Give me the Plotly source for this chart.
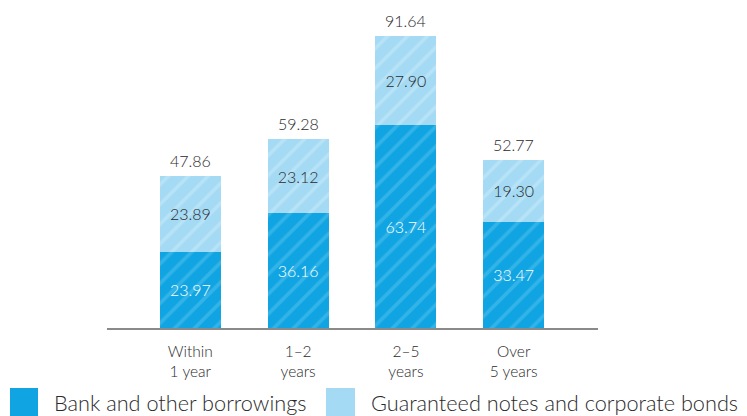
import plotly.graph_objects as go

categories = ["Within<br>1 year", "1–2<br>years", "2–5<br>years", "Over<br>5 years"]
bank = [23.97, 36.16, 63.74, 33.47]
notes = [23.89, 23.12, 27.90, 19.30]
totals = [47.86, 59.28, 91.64, 52.77]
series_names = ["Bank and other borrowings", "Guaranteed notes and corporate bonds"]

W, H = 747, 416
C_BANK = "#10a5e2"
C_NOTE = "#a5daf4"
FONT = "Lato, 'Noto Sans', sans-serif"
TXT = "#2a2a2a"
WT = 300

x = list(range(len(categories)))

fig = go.Figure()
fig.add_trace(go.Bar(
    x=x, y=bank, name=series_names[0], width=0.565,
    marker=dict(color=C_BANK, line=dict(width=0),
                pattern=dict(shape="/", fgcolor="#55c2ee", size=14, solidity=0.25)),
    texttemplate="%{y:.2f}", textposition="inside", insidetextanchor="middle",
    textfont=dict(color="white", size=16, family=FONT, weight=WT), textangle=0,
    showlegend=False,
))
fig.add_trace(go.Bar(
    x=x, y=notes, name=series_names[1], width=0.565,
    marker=dict(color=C_NOTE, line=dict(width=0),
                pattern=dict(shape="/", fgcolor="#c9ebfa", size=14, solidity=0.25)),
    texttemplate="%{y:.2f}", textposition="inside", insidetextanchor="middle",
    textfont=dict(color=TXT, size=16, family=FONT, weight=WT), textangle=0,
    showlegend=False,
))

annotations = []
for xi, t in zip(x, totals):
    annotations.append(dict(x=xi, y=t, xref="x", yref="y", text=f"{t:.2f}",
                            showarrow=False, yanchor="bottom", yshift=4,
                            font=dict(size=16, color=TXT, family=FONT, weight=WT)))

# manual legend
shapes = []
leg = [(10, 38, 52, C_BANK), (326, 355, 369, C_NOTE)]
for (x0, x1, tx, col), nm in zip(leg, series_names):
    shapes.append(dict(type="rect", xref="paper", yref="paper",
                       x0=x0 / W, x1=x1 / W, y0=1 - 416 / H, y1=1 - 388 / H,
                       fillcolor=col, line=dict(width=0)))
    annotations.append(dict(x=tx / W, y=1 - 403 / H, xref="paper", yref="paper",
                            text=nm, showarrow=False, xanchor="left", yanchor="middle",
                            font=dict(size=21.7, color=TXT, family=FONT, weight=WT)))

fig.update_layout(
    width=W, height=H, barmode="stack",
    margin=dict(l=0, r=0, t=0, b=0),
    paper_bgcolor="white", plot_bgcolor="white",
    font=dict(family=FONT, color=TXT),
    uniformtext=dict(mode=False),
    xaxis=dict(domain=[107 / W, 598 / W], range=[-0.773, 3.782],
               tickmode="array", tickvals=x, ticktext=categories,
               showline=True, linecolor="#8a8a8a", linewidth=2,
               showgrid=False, zeroline=False, ticks="", ticklabelstandoff=8,
               tickfont=dict(size=15.5, color=TXT, family=FONT, weight=WT)),
    yaxis=dict(domain=[1 - 328 / H, 1], range=[0, 103.1], visible=False,
               showgrid=False, zeroline=False),
    annotations=annotations, shapes=shapes,
)

fig.write_html("out.html")
